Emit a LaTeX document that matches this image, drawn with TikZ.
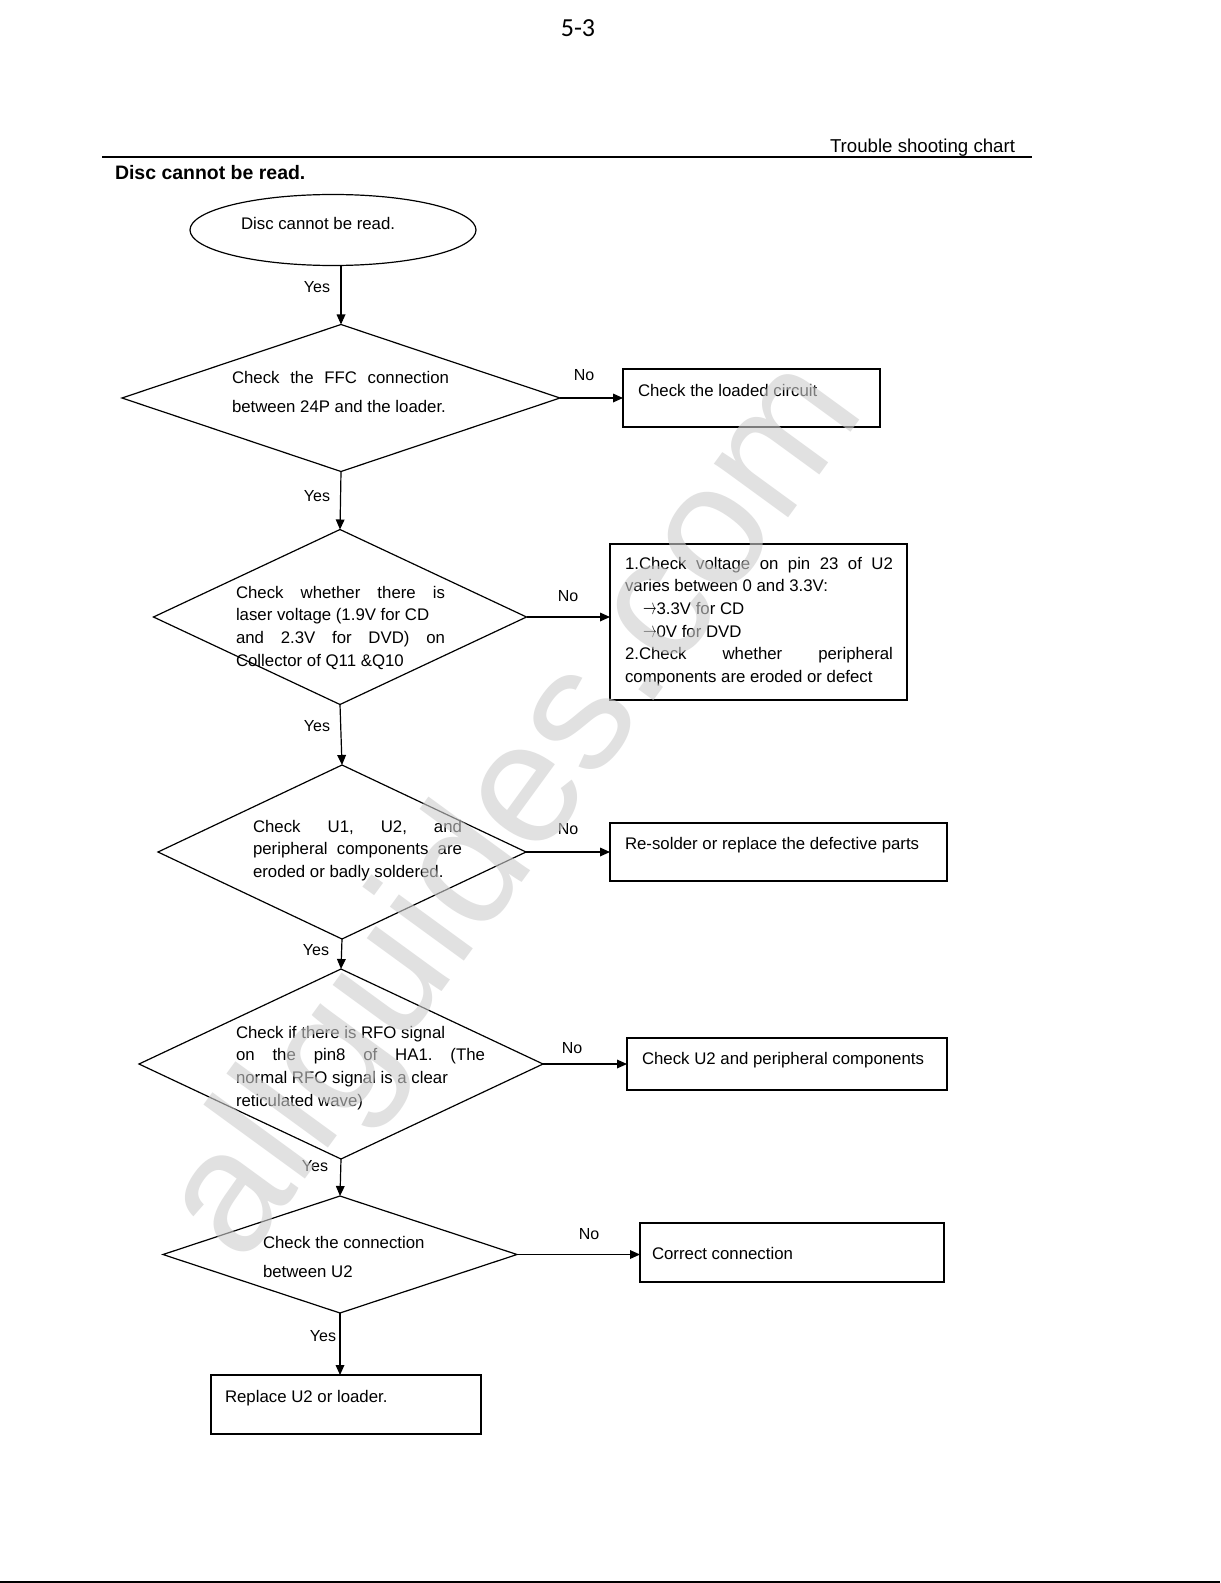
\documentclass[tikz,border=0pt]{standalone}
\usepackage{fontspec}
\usepackage{graphicx}
\setmainfont{Liberation Sans}
\newfontfamily\carlito{Carlito}
\usetikzlibrary{shapes.geometric,arrows.meta}
\definecolor{wmgray}{RGB}{205,205,205}
\newcommand{\rarr}{\scalebox{0.85}[1.4]{$\rightarrow$}}
\frenchspacing
\begin{document}
\begin{tikzpicture}[x=0.75pt,y=-0.75pt,
  every node/.style={inner sep=0pt, outer sep=0pt},
  body/.style={font=\fontsize{12.6}{17}\selectfont, anchor=north west, align=left},
  lbl/.style={font=\fontsize{12}{14}\selectfont},
  dia/.style={draw, shape=diamond, line width=0.9pt},
  ell/.style={draw, shape=ellipse, line width=0.9pt},
  box/.style={draw, rectangle, line width=0.9pt},
  heavy/.style={line width=1.8pt},
  arr/.style={line width=0.9pt, -{Triangle[length=7.5pt,width=6.5pt]}},
]
\useasboundingbox[fill=white] (0,0) rectangle (1220,1583);

% header
\node[font=\carlito\fontsize{19.5}{20}\selectfont] (pg) at (578,28) {5-3};
\node[font=\fontsize{14}{16}\selectfont, anchor=west] (tsc) at (830,148) {Trouble shooting chart};
\coordinate (hl1) at (102,157);
\coordinate (hl2) at (1032,157);
\draw[line width=0.9pt] (hl1) -- (hl2);
\node[font=\bfseries\fontsize{14.6}{16}\selectfont, anchor=west] (ttl) at (115,173) {Disc cannot be read.};

% shapes
\node[ell, minimum width=214.5pt, minimum height=53.25pt] (E) at (333,230) {};
\node[dia, minimum width=328.5pt, minimum height=110.25pt] (D1) at (341,398) {};
\node[dia, minimum width=279.75pt, minimum height=131.25pt] (D2) at (340,617) {};
\node[dia, minimum width=276pt, minimum height=130.5pt] (D3) at (342,852) {};
\node[dia, minimum width=303pt, minimum height=142.5pt] (D4) at (341,1064) {};
\node[dia, minimum width=265.5pt, minimum height=87.75pt] (D5) at (340,1254.5) {};

\node[box, minimum width=192.75pt, minimum height=43.5pt] (B1) at (751.5,398) {};
\node[box, minimum width=222.75pt, minimum height=117pt] (B2) at (758.5,622) {};
\node[box, minimum width=252.75pt, minimum height=43.5pt] (B3) at (778.5,852) {};
\node[box, minimum width=240pt, minimum height=39pt] (B4) at (787,1064) {};
\node[box, minimum width=228pt, minimum height=44.25pt] (B5) at (792,1252.5) {};
\node[box, minimum width=202.5pt, minimum height=44.25pt] (B6) at (346,1404.5) {};

\foreach \b in {B3,B4,B5,B6}{
  \draw[heavy] (\b.north east) -- (\b.south east) -- (\b.south west);
}

% texts
\node[body, anchor=west] (tE) at (241,223) {Disc cannot be read.};
\node[body] (tD1) at (232,371) {\makebox[162.75pt][s]{Check the FFC connection}\\[4.75pt]between 24P and the loader.};
\node[body] (tD2) at (236,586) {\makebox[156.75pt][s]{Check whether there is}\\laser voltage (1.9V for CD\\\makebox[156.75pt][s]{and 2.3V for DVD) on}\\Collector of Q11 \&Q10};
\node[body] (tD3) at (253,820) {\makebox[156.75pt][s]{Check U1, U2, and}\\\makebox[156.75pt][s]{peripheral components are}\\eroded or badly soldered.};
\node[body] (tD4) at (236,1026) {Check if there is RFO signal\\\makebox[186.75pt][s]{on the pin8 of HA1. (The}\\normal RFO signal is a clear\\reticulated wave)};
\node[body] (tD5) at (263,1236) {Check the connection\\[4.75pt]between U2};

\node[body, anchor=west] (tB1) at (638,390) {Check the loaded circuit};
\node[body] (tB2) at (625,557) {\makebox[201pt][s]{1.Check voltage on pin 23 of U2}\\varies between 0 and 3.3V:\\\hspace*{13.5pt}\rarr3.3V for CD\\\hspace*{13.5pt}\rarr0V for DVD\\\makebox[201pt][s]{2.Check whether peripheral}\\components are eroded or defect};
\node[body, anchor=west] (tB3) at (625,845) {Re-solder or replace the defective parts};
\node[body, anchor=west] (tB4) at (642,1060) {Check U2 and peripheral components};
\node[body, anchor=west] (tB5) at (652,1253) {Correct connection};
\node[body, anchor=west] (tB6) at (225,1398) {Replace U2 or loader.};

% connectors
\draw[arr] (E.south -| D1.north) -- (D1.north);
\draw[arr] (D1.south) -- (D2.north);
\draw[arr] (D2.south) -- (D3.north);
\draw[arr] (D3.south) -- (D4.north);
\draw[arr] (D4.south) -- (D5.north);
\draw[arr] (D5.south) -- (D5.south |- B6.north);

\draw[arr] (D1.east) -- (D1.east -| B1.west);
\draw[arr] (D2.east) -- (D2.east -| B2.west);
\draw[arr] (D3.east) -- (D3.east -| B3.west);
\draw[arr] (D4.east) -- (D4.east -| B4.west);
\draw[arr] (D5.east) -- (D5.east -| B5.west);

% labels
\node[lbl] (y1) at (317,287) {Yes};
\node[lbl] (y2) at (317,496) {Yes};
\node[lbl] (y3) at (317,726) {Yes};
\node[lbl] (y4) at (316,950) {Yes};
\node[lbl] (y5) at (315,1166) {Yes};
\node[lbl] (y6) at (323,1336) {Yes};
\node[lbl] (n1) at (584,375) {No};
\node[lbl] (n2) at (568,596) {No};
\node[lbl] (n3) at (568,829) {No};
\node[lbl] (n4) at (572,1048) {No};
\node[lbl] (n5) at (589,1234) {No};

% bottom rule
\coordinate (bl1) at (0,1582);
\coordinate (bl2) at (1220,1582);
\draw[line width=1.5pt] (bl1) -- (bl2);

% watermark
\node[rotate=53.9, font=\fontsize{130}{130}\selectfont, text=wmgray, text opacity=0.6] (wm) at (518,812) {allguides.com};
\end{tikzpicture}
\end{document}
